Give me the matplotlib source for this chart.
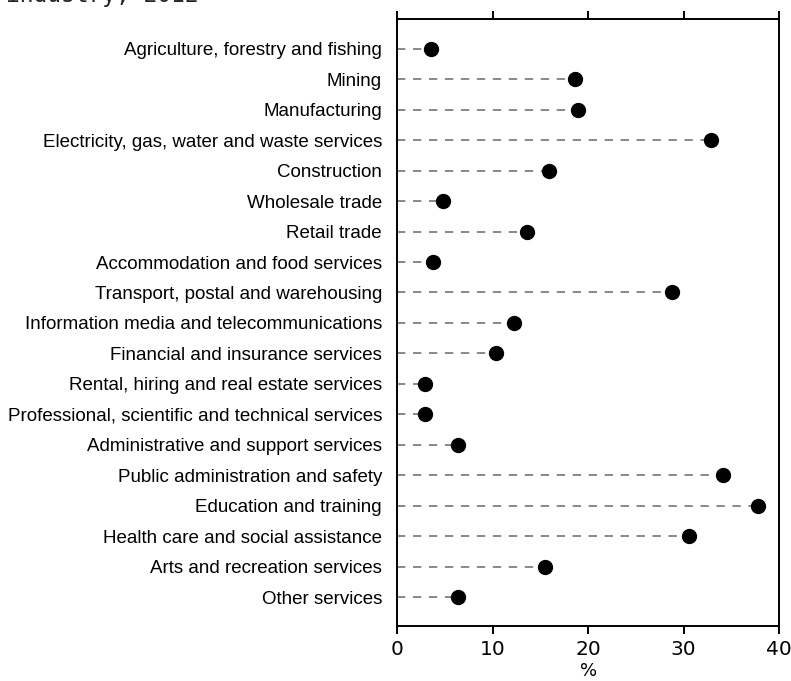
import matplotlib
matplotlib.use("Agg")
import matplotlib.pyplot as plt
from matplotlib import font_manager as fm

categories = [
    "Agriculture, forestry and fishing",
    "Mining",
    "Manufacturing",
    "Electricity, gas, water and waste services",
    "Construction",
    "Wholesale trade",
    "Retail trade",
    "Accommodation and food services",
    "Transport, postal and warehousing",
    "Information media and telecommunications",
    "Financial and insurance services",
    "Rental, hiring and real estate services",
    "Professional, scientific and technical services",
    "Administrative and support services",
    "Public administration and safety",
    "Education and training",
    "Health care and social assistance",
    "Arts and recreation services",
    "Other services",
]
values = [3.5, 18.6, 18.9, 32.9, 15.9, 4.8, 13.6, 3.7, 28.8, 12.2, 10.3,
          2.9, 2.9, 6.4, 34.1, 37.8, 30.6, 15.5, 6.4]
xticks = [0, 10, 20, 30, 40]
title_text = "industry, 2012"
xlabel_text = "%"

names = {f.name for f in fm.fontManager.ttflist}
label_font = "Liberation Sans Narrow" if "Liberation Sans Narrow" in names else "Liberation Sans"

plt.rcParams["lines.scale_dashes"] = False

fig = plt.figure(figsize=(7.91, 6.81), dpi=100)
ax = fig.add_axes([0.5023, 0.0803, 0.4825, 0.8922])

ypos = list(range(len(categories)))
ax.hlines(ypos, 0, values, colors="#888888", linewidth=1.4,
          linestyles=(0, (6, 5.5)), zorder=1)
ax.scatter(values, ypos, s=100, color="black", zorder=3)

ax.set_xlim(0, 40)
ax.set_ylim(18.95, -0.98)
ax.set_xticks(xticks)
ax.set_xticklabels([str(t) for t in xticks], fontsize=14.5, family="DejaVu Sans")
ax.set_yticks(ypos)
ax.set_yticklabels(categories, fontsize=13.5, family=label_font)

ax.tick_params(axis="x", which="both", direction="out", length=6, width=1.4,
               top=True, bottom=True, labeltop=False, pad=4)
ax.tick_params(axis="y", length=0, pad=11)
for s in ax.spines.values():
    s.set_linewidth(1.4)
    s.set_color("black")

ax.set_xlabel(xlabel_text, fontsize=13, family="DejaVu Sans", labelpad=2)

fig.text(0.008, 1 - 2 / 681, title_text, fontsize=16.5, family="DejaVu Sans Mono",
         ha="left", va="baseline", color="#222222")

fig.savefig("out.png", dpi=100)
